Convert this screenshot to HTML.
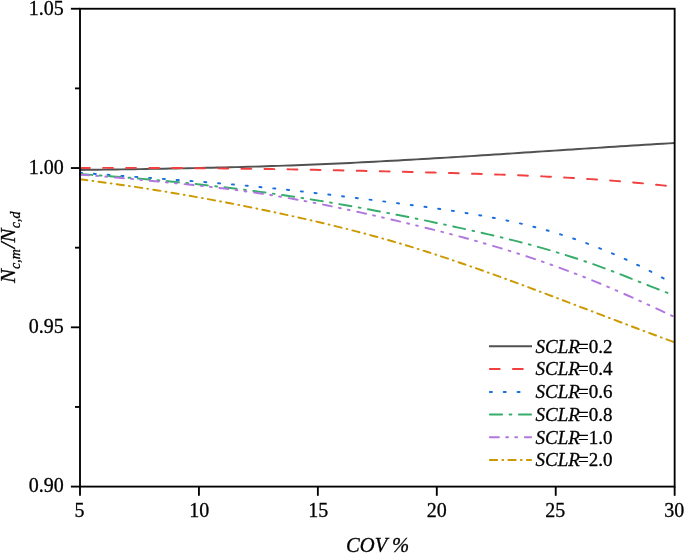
<!DOCTYPE html>
<html><head><meta charset="utf-8"><title>chart</title>
<style>html,body{margin:0;padding:0;background:#fff;overflow:hidden}svg{display:block}text{font-family:"Liberation Serif",serif;fill:#000;stroke:#000;stroke-width:0.3px}</style>
</head><body>
<svg width="685" height="553" viewBox="0 0 685 553">
<rect width="685" height="553" fill="#fff"/>
<g>
<path d="M80.0,169.96 L86.0,169.88 L92.0,169.80 L98.0,169.72 L104.0,169.64 L110.0,169.55 L116.0,169.47 L122.0,169.38 L128.1,169.29 L134.1,169.20 L140.1,169.10 L146.1,169.00 L152.1,168.90 L158.1,168.80 L164.1,168.69 L170.1,168.58 L176.1,168.47 L182.1,168.35 L188.1,168.23 L194.1,168.11 L200.1,167.98 L206.1,167.84 L212.1,167.71 L218.2,167.56 L224.2,167.42 L230.2,167.26 L236.2,167.11 L242.2,166.94 L248.2,166.78 L254.2,166.60 L260.2,166.42 L266.2,166.24 L272.2,166.05 L278.2,165.85 L284.2,165.64 L290.2,165.43 L296.2,165.21 L302.2,164.99 L308.2,164.75 L314.3,164.51 L320.3,164.27 L326.3,164.01 L332.3,163.75 L338.3,163.48 L344.3,163.20 L350.3,162.92 L356.3,162.62 L362.3,162.33 L368.3,162.02 L374.3,161.71 L380.3,161.40 L386.3,161.08 L392.3,160.75 L398.3,160.42 L404.4,160.08 L410.4,159.74 L416.4,159.39 L422.4,159.04 L428.4,158.68 L434.4,158.33 L440.4,157.96 L446.4,157.60 L452.4,157.23 L458.4,156.85 L464.4,156.48 L470.4,156.10 L476.4,155.71 L482.4,155.33 L488.4,154.94 L494.5,154.56 L500.5,154.16 L506.5,153.77 L512.5,153.38 L518.5,152.99 L524.5,152.59 L530.5,152.19 L536.5,151.80 L542.5,151.40 L548.5,151.00 L554.5,150.61 L560.5,150.21 L566.5,149.81 L572.5,149.42 L578.5,149.02 L584.6,148.63 L590.6,148.24 L596.6,147.85 L602.6,147.46 L608.6,147.07 L614.6,146.69 L620.6,146.30 L626.6,145.92 L632.6,145.55 L638.6,145.17 L644.6,144.80 L650.6,144.43 L656.6,144.07 L662.6,143.71 L668.6,143.35 L674.6,143.00" fill="none" stroke="#515151" stroke-width="1.95"/>
<path d="M80.0,167.99 L86.0,167.96 L92.0,167.93 L98.0,167.91 L104.0,167.89 L110.0,167.88 L116.0,167.87 L122.0,167.87 L128.1,167.87 L134.1,167.88 L140.1,167.89 L146.1,167.90 L152.1,167.92 L158.1,167.94 L164.1,167.97 L170.1,168.00 L176.1,168.03 L182.1,168.07 L188.1,168.12 L194.1,168.16 L200.1,168.21 L206.1,168.26 L212.1,168.32 L218.2,168.38 L224.2,168.45 L230.2,168.52 L236.2,168.59 L242.2,168.66 L248.2,168.74 L254.2,168.82 L260.2,168.91 L266.2,169.00 L272.2,169.09 L278.2,169.18 L284.2,169.28 L290.2,169.38 L296.2,169.48 L302.2,169.59 L308.2,169.70 L314.3,169.81 L320.3,169.93 L326.3,170.05 L332.3,170.17 L338.3,170.29 L344.3,170.42 L350.3,170.55 L356.3,170.68 L362.3,170.81 L368.3,170.95 L374.3,171.09 L380.3,171.23 L386.3,171.37 L392.3,171.52 L398.3,171.66 L404.4,171.81 L410.4,171.96 L416.4,172.12 L422.4,172.27 L428.4,172.43 L434.4,172.59 L440.4,172.75 L446.4,172.92 L452.4,173.09 L458.4,173.26 L464.4,173.44 L470.4,173.62 L476.4,173.80 L482.4,174.00 L488.4,174.20 L494.5,174.40 L500.5,174.62 L506.5,174.84 L512.5,175.07 L518.5,175.31 L524.5,175.56 L530.5,175.83 L536.5,176.10 L542.5,176.38 L548.5,176.68 L554.5,176.99 L560.5,177.31 L566.5,177.65 L572.5,178.00 L578.5,178.36 L584.6,178.74 L590.6,179.14 L596.6,179.55 L602.6,179.98 L608.6,180.43 L614.6,180.90 L620.6,181.38 L626.6,181.89 L632.6,182.41 L638.6,182.96 L644.6,183.52 L650.6,184.11 L656.6,184.72 L662.6,185.35 L668.6,186.00 L674.6,186.68" fill="none" stroke="#F14040" stroke-width="1.95" stroke-dasharray="9.845 13.216" stroke-dashoffset="{0.8-CAP/2:.3f}" stroke-linecap="round"/>
<path d="M80.0,172.71 L86.0,173.19 L92.0,173.66 L98.0,174.12 L104.0,174.57 L110.0,175.02 L116.0,175.47 L122.0,175.91 L128.1,176.35 L134.1,176.78 L140.1,177.22 L146.1,177.66 L152.1,178.09 L158.1,178.53 L164.1,178.97 L170.1,179.42 L176.1,179.86 L182.1,180.32 L188.1,180.78 L194.1,181.24 L200.1,181.71 L206.1,182.20 L212.1,182.69 L218.2,183.19 L224.2,183.70 L230.2,184.22 L236.2,184.75 L242.2,185.30 L248.2,185.86 L254.2,186.44 L260.2,187.03 L266.2,187.64 L272.2,188.25 L278.2,188.88 L284.2,189.53 L290.2,190.18 L296.2,190.85 L302.2,191.52 L308.2,192.21 L314.3,192.90 L320.3,193.60 L326.3,194.32 L332.3,195.04 L338.3,195.76 L344.3,196.50 L350.3,197.24 L356.3,197.98 L362.3,198.73 L368.3,199.49 L374.3,200.25 L380.3,201.01 L386.3,201.77 L392.3,202.54 L398.3,203.32 L404.4,204.10 L410.4,204.89 L416.4,205.69 L422.4,206.51 L428.4,207.34 L434.4,208.19 L440.4,209.05 L446.4,209.94 L452.4,210.84 L458.4,211.78 L464.4,212.74 L470.4,213.72 L476.4,214.74 L482.4,215.79 L488.4,216.89 L494.5,218.02 L500.5,219.20 L506.5,220.44 L512.5,221.72 L518.5,223.07 L524.5,224.47 L530.5,225.95 L536.5,227.49 L542.5,229.10 L548.5,230.79 L554.5,232.55 L560.5,234.39 L566.5,236.30 L572.5,238.29 L578.5,240.36 L584.6,242.50 L590.6,244.73 L596.6,247.03 L602.6,249.42 L608.6,251.88 L614.6,254.43 L620.6,257.06 L626.6,259.78 L632.6,262.58 L638.6,265.46 L644.6,268.44 L650.6,271.49 L656.6,274.64 L662.6,277.88 L668.6,281.21" fill="none" stroke="#1A6FDF" stroke-width="1.95" stroke-dasharray="2.045 11.803" stroke-dashoffset="{0.8-CAP/2:.3f}" stroke-linecap="round"/>
<path d="M80.0,174.06 L86.0,174.47 L92.0,174.89 L98.0,175.32 L104.0,175.76 L110.0,176.21 L116.0,176.67 L122.0,177.15 L128.1,177.64 L134.1,178.14 L140.1,178.65 L146.1,179.17 L152.1,179.71 L158.1,180.27 L164.1,180.83 L170.1,181.41 L176.1,182.00 L182.1,182.61 L188.1,183.23 L194.1,183.87 L200.1,184.52 L206.1,185.19 L212.1,185.87 L218.2,186.56 L224.2,187.27 L230.2,188.00 L236.2,188.74 L242.2,189.50 L248.2,190.28 L254.2,191.07 L260.2,191.88 L266.2,192.70 L272.2,193.55 L278.2,194.40 L284.2,195.28 L290.2,196.18 L296.2,197.09 L302.2,198.01 L308.2,198.96 L314.3,199.92 L320.3,200.90 L326.3,201.89 L332.3,202.90 L338.3,203.93 L344.3,204.97 L350.3,206.03 L356.3,207.10 L362.3,208.19 L368.3,209.30 L374.3,210.42 L380.3,211.55 L386.3,212.70 L392.3,213.87 L398.3,215.05 L404.4,216.25 L410.4,217.45 L416.4,218.68 L422.4,219.91 L428.4,221.16 L434.4,222.43 L440.4,223.70 L446.4,224.99 L452.4,226.28 L458.4,227.59 L464.4,228.91 L470.4,230.24 L476.4,231.59 L482.4,232.95 L488.4,234.34 L494.5,235.75 L500.5,237.18 L506.5,238.64 L512.5,240.13 L518.5,241.65 L524.5,243.21 L530.5,244.81 L536.5,246.45 L542.5,248.13 L548.5,249.86 L554.5,251.63 L560.5,253.45 L566.5,255.31 L572.5,257.23 L578.5,259.19 L584.6,261.21 L590.6,263.28 L596.6,265.41 L602.6,267.60 L608.6,269.84 L614.6,272.12 L620.6,274.44 L626.6,276.78 L632.6,279.15 L638.6,281.53 L644.6,283.91 L650.6,286.29 L656.6,288.65 L662.6,290.99 L668.6,293.30" fill="none" stroke="#37AD6B" stroke-width="1.95" stroke-dasharray="12.245 7.455 1.845 7.473" stroke-dashoffset="{0.8-CAP/2:.3f}" stroke-linecap="round"/>
<path d="M80.0,174.66 L86.0,175.08 L92.0,175.52 L98.0,175.99 L104.0,176.48 L110.0,176.98 L116.0,177.51 L122.0,178.05 L128.1,178.60 L134.1,179.16 L140.1,179.74 L146.1,180.32 L152.1,180.91 L158.1,181.50 L164.1,182.09 L170.1,182.68 L176.1,183.28 L182.1,183.89 L188.1,184.50 L194.1,185.13 L200.1,185.77 L206.1,186.43 L212.1,187.10 L218.2,187.80 L224.2,188.52 L230.2,189.26 L236.2,190.04 L242.2,190.84 L248.2,191.67 L254.2,192.54 L260.2,193.44 L266.2,194.37 L272.2,195.34 L278.2,196.33 L284.2,197.35 L290.2,198.40 L296.2,199.48 L302.2,200.58 L308.2,201.71 L314.3,202.87 L320.3,204.04 L326.3,205.25 L332.3,206.47 L338.3,207.71 L344.3,208.98 L350.3,210.27 L356.3,211.57 L362.3,212.89 L368.3,214.23 L374.3,215.59 L380.3,216.96 L386.3,218.34 L392.3,219.74 L398.3,221.15 L404.4,222.58 L410.4,224.02 L416.4,225.47 L422.4,226.94 L428.4,228.43 L434.4,229.94 L440.4,231.46 L446.4,233.01 L452.4,234.58 L458.4,236.18 L464.4,237.80 L470.4,239.45 L476.4,241.12 L482.4,242.82 L488.4,244.55 L494.5,246.32 L500.5,248.11 L506.5,249.94 L512.5,251.81 L518.5,253.71 L524.5,255.65 L530.5,257.62 L536.5,259.64 L542.5,261.70 L548.5,263.79 L554.5,265.93 L560.5,268.11 L566.5,270.34 L572.5,272.60 L578.5,274.91 L584.6,277.27 L590.6,279.67 L596.6,282.11 L602.6,284.60 L608.6,287.14 L614.6,289.72 L620.6,292.34 L626.6,295.00 L632.6,297.69 L638.6,300.40 L644.6,303.14 L650.6,305.88 L656.6,308.64 L662.6,311.41 L668.6,314.17 L674.6,316.92" fill="none" stroke="#B177DE" stroke-width="1.95" stroke-dasharray="9.045 7.255 1.845 7.255 1.845 7.755" stroke-dashoffset="{0.8-CAP/2:.3f}" stroke-linecap="round"/>
<path d="M80.0,179.33 L86.0,180.08 L92.0,180.85 L98.0,181.64 L104.0,182.44 L110.0,183.26 L116.0,184.10 L122.0,184.96 L128.1,185.83 L134.1,186.73 L140.1,187.64 L146.1,188.56 L152.1,189.51 L158.1,190.47 L164.1,191.45 L170.1,192.45 L176.1,193.46 L182.1,194.49 L188.1,195.53 L194.1,196.59 L200.1,197.67 L206.1,198.76 L212.1,199.87 L218.2,200.99 L224.2,202.13 L230.2,203.29 L236.2,204.46 L242.2,205.64 L248.2,206.84 L254.2,208.06 L260.2,209.29 L266.2,210.53 L272.2,211.79 L278.2,213.07 L284.2,214.36 L290.2,215.67 L296.2,216.99 L302.2,218.33 L308.2,219.70 L314.3,221.08 L320.3,222.49 L326.3,223.91 L332.3,225.36 L338.3,226.83 L344.3,228.33 L350.3,229.85 L356.3,231.40 L362.3,232.98 L368.3,234.58 L374.3,236.21 L380.3,237.87 L386.3,239.56 L392.3,241.28 L398.3,243.03 L404.4,244.81 L410.4,246.63 L416.4,248.48 L422.4,250.36 L428.4,252.26 L434.4,254.20 L440.4,256.16 L446.4,258.14 L452.4,260.15 L458.4,262.19 L464.4,264.25 L470.4,266.32 L476.4,268.42 L482.4,270.54 L488.4,272.68 L494.5,274.83 L500.5,277.00 L506.5,279.19 L512.5,281.39 L518.5,283.60 L524.5,285.83 L530.5,288.06 L536.5,290.31 L542.5,292.56 L548.5,294.83 L554.5,297.10 L560.5,299.37 L566.5,301.65 L572.5,303.93 L578.5,306.22 L584.6,308.51 L590.6,310.80 L596.6,313.09 L602.6,315.37 L608.6,317.66 L614.6,319.94 L620.6,322.22 L626.6,324.49 L632.6,326.75 L638.6,329.01 L644.6,331.25 L650.6,333.49 L656.6,335.72 L662.6,337.93 L668.6,340.13 L674.6,342.32" fill="none" stroke="#CC9900" stroke-width="1.95" stroke-dasharray="7.345 5.155 0.845 5.139" stroke-dashoffset="{0.8-CAP/2:.3f}" stroke-linecap="round"/>
</g>
<g>
<rect x="80.0" y="8.75" width="594.65" height="477.85" fill="none" stroke="#000" stroke-width="1.85"/>
<line x1="80.00" y1="486.6" x2="80.00" y2="495.8" stroke="#000" stroke-width="1.85"/>
<text x="79.60" y="517" font-size="20" text-anchor="middle">5</text>
<line x1="198.93" y1="486.6" x2="198.93" y2="495.8" stroke="#000" stroke-width="1.85"/>
<text x="199.23" y="517" font-size="20" text-anchor="middle">10</text>
<line x1="317.86" y1="486.6" x2="317.86" y2="495.8" stroke="#000" stroke-width="1.85"/>
<text x="318.16" y="517" font-size="20" text-anchor="middle">15</text>
<line x1="436.79" y1="486.6" x2="436.79" y2="495.8" stroke="#000" stroke-width="1.85"/>
<text x="436.79" y="517" font-size="20" text-anchor="middle">20</text>
<line x1="555.72" y1="486.6" x2="555.72" y2="495.8" stroke="#000" stroke-width="1.85"/>
<text x="555.22" y="517" font-size="20" text-anchor="middle">25</text>
<line x1="674.65" y1="486.6" x2="674.65" y2="495.8" stroke="#000" stroke-width="1.85"/>
<text x="674.15" y="517" font-size="20" text-anchor="middle">30</text>
<line x1="70.9" y1="8.75" x2="80.0" y2="8.75" stroke="#000" stroke-width="1.85"/>
<text x="63.7" y="14.55" font-size="20" text-anchor="end">1.05</text>
<line x1="75.0" y1="88.39" x2="80.0" y2="88.39" stroke="#000" stroke-width="1.85"/>
<line x1="70.9" y1="168.03" x2="80.0" y2="168.03" stroke="#000" stroke-width="1.85"/>
<text x="63.7" y="173.83" font-size="20" text-anchor="end">1.00</text>
<line x1="75.0" y1="247.68" x2="80.0" y2="247.68" stroke="#000" stroke-width="1.85"/>
<line x1="70.9" y1="327.32" x2="80.0" y2="327.32" stroke="#000" stroke-width="1.85"/>
<text x="63.7" y="333.12" font-size="20" text-anchor="end">0.95</text>
<line x1="75.0" y1="406.96" x2="80.0" y2="406.96" stroke="#000" stroke-width="1.85"/>
<line x1="70.9" y1="486.60" x2="80.0" y2="486.60" stroke="#000" stroke-width="1.85"/>
<text x="63.7" y="492.40" font-size="20" text-anchor="end">0.90</text>
<text x="377.6" y="551.5" font-size="20.6" font-style="italic" text-anchor="middle">COV %</text>
<text transform="translate(15.4,283) rotate(-90)" font-size="21" font-style="italic">N<tspan font-size="14" dy="5">c,m</tspan><tspan dy="-5" dx="0.8">/N</tspan><tspan font-size="14" dy="5" dx="0.4">c,d</tspan></text>
</g>
<g>
<line x1="489" y1="346.3" x2="532" y2="346.3" stroke="#515151" stroke-width="1.95"/>
<text x="535.6" y="352.6" font-size="19"><tspan font-style="italic">SCLR</tspan><tspan dx="-1.9">=0.2</tspan></text>
<line x1="489" y1="369.0" x2="531.1" y2="369.0" stroke="#F14040" stroke-width="1.95" stroke-dasharray="9.845 13.216" stroke-dashoffset="-0.877" stroke-linecap="round"/>
<text x="535.6" y="375.3" font-size="19"><tspan font-style="italic">SCLR</tspan><tspan dx="-1.9">=0.4</tspan></text>
<line x1="489" y1="392.0" x2="531.1" y2="392.0" stroke="#1A6FDF" stroke-width="1.95" stroke-dasharray="2.045 11.803" stroke-dashoffset="-0.877" stroke-linecap="round"/>
<text x="535.6" y="398.3" font-size="19"><tspan font-style="italic">SCLR</tspan><tspan dx="-1.9">=0.6</tspan></text>
<line x1="489" y1="414.5" x2="531.1" y2="414.5" stroke="#37AD6B" stroke-width="1.95" stroke-dasharray="12.245 7.455 1.845 7.473" stroke-dashoffset="-0.877" stroke-linecap="round"/>
<text x="535.6" y="420.8" font-size="19"><tspan font-style="italic">SCLR</tspan><tspan dx="-1.9">=0.8</tspan></text>
<line x1="489" y1="437.2" x2="531.1" y2="437.2" stroke="#B177DE" stroke-width="1.95" stroke-dasharray="9.045 7.255 1.845 7.255 1.845 7.755" stroke-dashoffset="-0.877" stroke-linecap="round"/>
<text x="535.6" y="443.5" font-size="19"><tspan font-style="italic">SCLR</tspan><tspan dx="-1.9">=1.0</tspan></text>
<line x1="489" y1="460.0" x2="531.1" y2="460.0" stroke="#CC9900" stroke-width="1.95" stroke-dasharray="7.345 5.155 0.845 5.139" stroke-dashoffset="-0.877" stroke-linecap="round"/>
<text x="535.6" y="466.3" font-size="19"><tspan font-style="italic">SCLR</tspan><tspan dx="-1.9">=2.0</tspan></text>
</g>
</svg>
</body></html>
